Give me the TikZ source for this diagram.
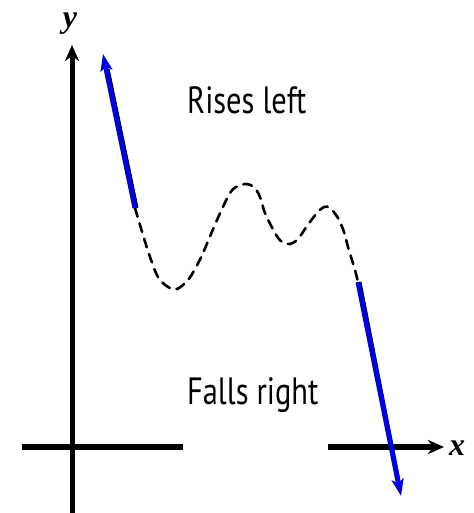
\documentclass[tikz,border=0pt]{standalone}
\usepackage{fontspec}
\newfontfamily\narrowfont[FakeStretch=0.8]{PT Sans}
\newfontfamily\axfont{Liberation Serif}
\usetikzlibrary{arrows.meta,calc}
\tikzset{
  axis/.style={line width=5pt, black},
  axtip/.style={-{Stealth[length=16pt,width=14pt,inset=5pt]}},
  bluearrow/.style={line width=5pt, blue!90!black, -{Stealth[length=17pt,width=12pt,inset=4pt]}},
  shadowline/.style={line width=3pt, black},
  dashcurve/.style={line width=2.6pt, dash pattern=on 9pt off 7pt, line cap=round},
  label/.style={font=\narrowfont\fontsize{38}{40}\selectfont, anchor=base west, inner sep=0pt},
  axlabel/.style={font=\axfont\bfseries\itshape\fontsize{32}{34}\selectfont, inner sep=0pt}
}
\begin{document}
\begin{tikzpicture}[x=1pt,y=-1pt]
\useasboundingbox (0,0) rectangle (473,513);
% coordinates
\coordinate (ybot) at (72,513);
\coordinate (ytop) at (72,45);
\coordinate (xl1) at (22,447);
\coordinate (xl2) at (183,447);
\coordinate (xr1) at (328,447);
\coordinate (xr2) at (444,447);
\coordinate (ts) at (135,208);
\coordinate (tt) at (103,54);
\coordinate (bs) at (358,282);
\coordinate (bt) at (401,496);
% axes
\draw[axis, axtip] (ybot) -- (ytop);
\draw[axis, line width=5.5pt] (xl1) -- (xl2);
\draw[axis, line width=5.5pt, axtip] (xr1) -- (xr2);
\node[axlabel] (ylab) at (70,24) {y};
\node[axlabel] (xlab) at (457,448) {x};
% dashed curve
\draw[dashcurve] plot[smooth, tension=0.55] coordinates {
 (135,208) (143,235) (150,257) (158,277) (168,287) (177,289) (188,280)
 (196,267) (203,253) (217,220) (230,193) (238,186) (246,184) (254,187)
 (260,197) (265,213) (275,233) (282,242) (290,244) (298,239) (307,226)
 (317,213) (324,207) (330,208) (338,218) (344,232) (348,247) (355,270) (358,282)};
% blue arrows with thin black shadow
\draw[shadowline] ($(ts)+(2,0)$) -- ($($(ts)!0.9!(tt)$)+(2,0)$);
\draw[bluearrow] (ts) -- (tt);
\draw[shadowline] ($(bs)+(2,0)$) -- ($($(bs)!0.92!(bt)$)+(1,0)$);
\draw[bluearrow] (bs) -- (bt);
% labels
\node[label] (rises) at (187,114) {Rises left};
\node[label] (falls) at (187,404) {Falls right};
\end{tikzpicture}
\end{document}
